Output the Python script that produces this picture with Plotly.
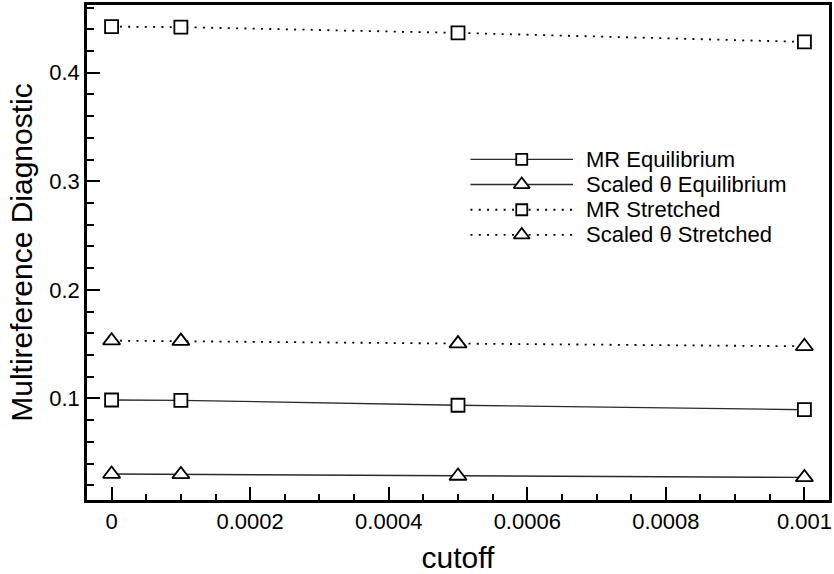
import plotly.graph_objects as go

# Basis-set cutoff values (x) and the diagnostic for each case
cutoff = [0.0, 0.0001, 0.0005, 0.001]

mr_equilibrium = [0.0985, 0.0982, 0.0937, 0.0896]
scaled_theta_equilibrium = [0.0303, 0.0300, 0.0285, 0.0272]
mr_stretched = [0.4425, 0.4420, 0.4367, 0.4284]
scaled_theta_stretched = [0.1532, 0.1528, 0.1505, 0.1480]

series_names = ["MR Equilibrium", "Scaled θ Equilibrium",
                "MR Stretched", "Scaled θ Stretched"]

x_tick_vals = [0, 0.0002, 0.0004, 0.0006, 0.0008, 0.001]
x_tick_text = ["0", "0.0002", "0.0004", "0.0006", "0.0008", "0.001"]
y_tick_vals = [0.1, 0.2, 0.3, 0.4]
y_tick_text = ["0.1", "0.2", "0.3", "0.4"]

FONT = "Liberation Sans, Arial, Helvetica, sans-serif"
SOLID = dict(color="#2a2a2a", width=1.4)
DOTTED = dict(color="black", width=1.8, dash="2px,6.3px")
SQUARE = dict(symbol="square", size=13, color="white",
              line=dict(color="black", width=1.8))
TRIANGLE = dict(symbol="triangle-up", size=15, color="white",
                line=dict(color="black", width=1.8))
KEY_SQUARE = dict(SQUARE, size=11)
KEY_TRIANGLE = dict(TRIANGLE, size=14)

styles = [(SOLID, SQUARE), (SOLID, TRIANGLE), (DOTTED, SQUARE), (DOTTED, TRIANGLE)]
key_markers = [KEY_SQUARE, KEY_TRIANGLE, KEY_SQUARE, KEY_TRIANGLE]
values = [mr_equilibrium, scaled_theta_equilibrium, mr_stretched, scaled_theta_stretched]

fig = go.Figure()
for name, ys, (ln, mk) in zip(series_names, values, styles):
    fig.add_trace(go.Scatter(x=cutoff, y=ys, name=name, mode="lines+markers",
                             line=ln, marker=mk, showlegend=False,
                             cliponaxis=False))

# Hand-drawn key on an overlay axis measured in layout pixels
L, R, T, B = 87, 832, 3, 500
key_x0, key_x1, key_text_x = 472, 575, 586
key_y0, key_dy = 158, 25.3
for i, (name, (ln, _), km) in enumerate(zip(series_names, styles, key_markers)):
    yy = key_y0 + i * key_dy
    fig.add_trace(go.Scatter(x=[key_x0, key_x1], y=[yy, yy], mode="lines",
                             line=ln, xaxis="x2", yaxis="y2",
                             showlegend=False, hoverinfo="skip"))
    fig.add_trace(go.Scatter(x=[(key_x0 + key_x1) / 2], y=[yy], mode="markers",
                             marker=km, xaxis="x2", yaxis="y2",
                             showlegend=False, hoverinfo="skip"))
    fig.add_annotation(x=key_text_x, y=yy, xref="x2", yref="y2", text=name,
                       showarrow=False, xanchor="left", yanchor="middle",
                       font=dict(family=FONT, size=22, color="black"))

axis_common = dict(
    showgrid=False, zeroline=False, showline=True, linecolor="black",
    linewidth=2.6, mirror=True, ticks="inside", tickcolor="black",
    tickwidth=2, tickfont=dict(family=FONT, size=22, color="black"),
)

fig.update_layout(
    width=834, height=574,
    margin=dict(l=L, r=834 - R, t=T, b=574 - B),
    plot_bgcolor="white", paper_bgcolor="white",
    font=dict(family=FONT, color="black"),
    xaxis=dict(**axis_common, range=[-0.0000355, 0.0010355],
               tickvals=x_tick_vals, ticktext=x_tick_text, ticklen=13,
               minor=dict(ticks="inside", dtick=0.00005, ticklen=6,
                          tickwidth=1.5, tickcolor="black"),
               title=dict(text="cutoff", font=dict(family=FONT, size=30),
                          standoff=14)),
    yaxis=dict(**axis_common, range=[0.0064, 0.4624],
               tickvals=y_tick_vals, ticktext=y_tick_text, ticklen=13,
               minor=dict(ticks="inside", dtick=0.02, ticklen=7,
                          tickwidth=1.5, tickcolor="black"),
               title=dict(text="Multireference Diagnostic",
                          font=dict(family=FONT, size=30), standoff=8)),
    xaxis2=dict(range=[L, R], overlaying="x", anchor="y2", visible=False),
    yaxis2=dict(range=[B, T], overlaying="y", anchor="x2", visible=False),
)

fig.write_html("out.html")
